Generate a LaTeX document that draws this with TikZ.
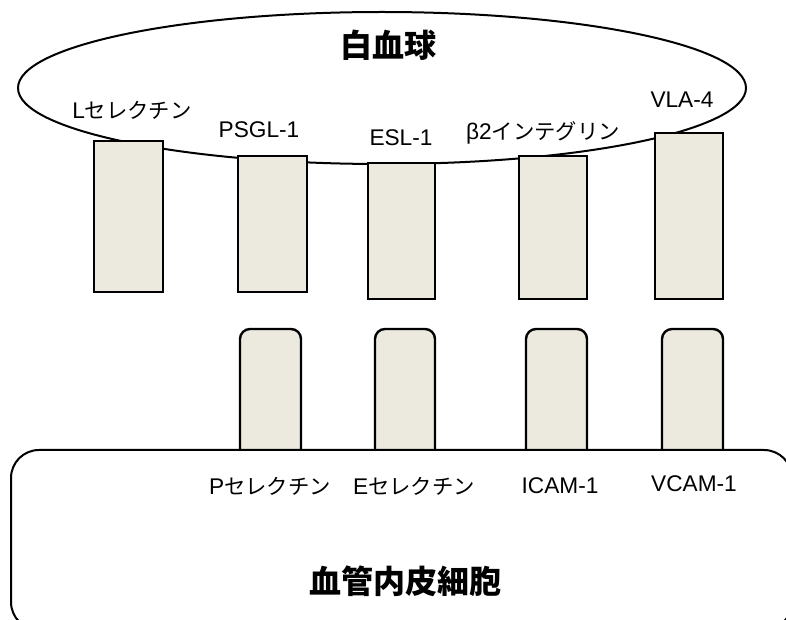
\documentclass[tikz,border=0pt]{standalone}
\usepackage{fontspec}
\setmainfont{Liberation Sans}
\newfontfamily\jpfam{Noto Sans CJK JP}
\newcommand{\kana}[1]{{\jpfam\fontsize{16}{19}\selectfont #1}}
\usetikzlibrary{shapes.geometric}
\definecolor{recepfill}{RGB}{236,233,222}
\tikzset{
  cell/.style={draw=black, line width=1.5pt, fill=white, inner sep=0pt},
  recep/.style={draw=black, line width=1.8pt, fill=recepfill, inner sep=0pt},
  ligand/.style={recep, rounded corners=7.5pt},
  lbl/.style={inner sep=0pt, font=\fontsize{17}{20}\selectfont},
  ttl/.style={inner sep=0pt, font=\jpfam\bfseries\fontsize{24}{28}\selectfont},
}
\begin{document}
\begin{tikzpicture}[x=0.75pt,y=-0.75pt]
\useasboundingbox (0,0) rectangle (786,620);
\clip (0,0) rectangle (786,620);
% leukocyte
\node[cell, ellipse, minimum width=546pt, minimum height=114pt] (wbc) at (382,88) {};
% receptors on leukocyte
\node[recep, minimum width=51.75pt, minimum height=113.25pt] (rL) at (128.5,216.5) {};
\node[recep, minimum width=51.75pt, minimum height=102pt] (rP) at (272.5,224) {};
\node[recep, minimum width=50.25pt, minimum height=102pt] (rE) at (401.5,231) {};
\node[recep, minimum width=51pt, minimum height=107.25pt] (rB) at (553,227.5) {};
\node[recep, minimum width=51pt, minimum height=124.5pt] (rV) at (689,216) {};
% ligands on endothelium
\node[ligand, minimum width=45.75pt, minimum height=98.25pt] (lP) at (270.5,394.5) {};
\node[ligand, minimum width=45pt, minimum height=98.25pt] (lE) at (405,394.5) {};
\node[ligand, minimum width=45.75pt, minimum height=98.25pt] (lI) at (556.5,394.5) {};
\node[ligand, minimum width=45.75pt, minimum height=98.25pt] (lV) at (692.5,394.5) {};
% endothelial cell
\node[cell, rectangle, rounded corners=21pt, minimum width=585.75pt, minimum height=135pt] (endo) at (401.5,540) {};
% titles
\node[ttl] (t1) at (388,45) {白血球};
\node[ttl] (t2) at (405,581) {血管内皮細胞};
% labels
\node[lbl] (nL) at (132,110) {L\kana{セレクチン}};
\node[lbl] (nP) at (259,130) {PSGL-1};
\node[lbl] (nE) at (401,138) {ESL-1};
\node[lbl] (nB) at (543,133) {β2\kana{インテグリン}};
\node[lbl] (nV) at (682,100) {VLA-4};
\node[lbl] (mP) at (270,486) {P\kana{セレクチン}};
\node[lbl] (mE) at (414,486) {E\kana{セレクチン}};
\node[lbl] (mI) at (560,486) {ICAM-1};
\node[lbl] (mV) at (694,484) {VCAM-1};
\end{tikzpicture}
\end{document}
